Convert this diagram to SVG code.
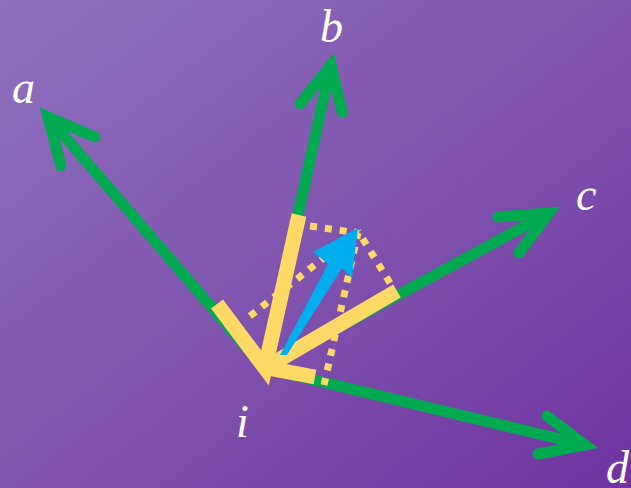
<svg xmlns="http://www.w3.org/2000/svg" width="631" height="488" viewBox="0 0 631 488">
<defs>
<linearGradient id="bg" x1="0" y1="0" x2="1" y2="1">
<stop offset="0" stop-color="#8E70BD"/>
<stop offset="0.5" stop-color="#8055AF"/>
<stop offset="1" stop-color="#7033A0"/>
</linearGradient>
<style>
.g{stroke:#00AA50;stroke-width:11;fill:none;stroke-linecap:round;stroke-linejoin:miter;stroke-miterlimit:10}
.y{stroke:#FFD966;stroke-width:15;fill:none;stroke-linecap:butt}
.d{stroke:#FFD966;stroke-width:7;fill:none;stroke-dasharray:7 8}
.t{font-family:"Liberation Serif",serif;font-style:italic;font-size:46px;fill:#FFFFFF}
</style>
</defs>
<rect width="631" height="488" fill="url(#bg)"/>
<g id="connectors">
<line class="g" x1="264" y1="368" x2="48" y2="117"/>
<polyline class="g" points="95,137 48,117 61,166"/>
<line class="g" x1="264" y1="368" x2="331" y2="65"/>
<polyline class="g" points="300,104 331,65 342,112"/>
<line class="g" x1="264" y1="368" x2="549" y2="213"/>
<polyline class="g" points="498,217 549,213 519,253"/>
<line class="g" x1="264" y1="368" x2="585" y2="445"/>
<polyline class="g" points="547,416 585,445 538,454"/>
<polyline class="y" points="217,304 265,368 299,215"/>
<polyline class="y" points="265,368 397,291"/>
<polyline class="y" points="262,367 315,377"/>
<line class="d" x1="250" y1="316" x2="358" y2="231"/>
<line class="d" x1="310" y1="226" x2="358" y2="233"/>
<line class="d" x1="390" y1="283" x2="358" y2="231"/>
<line class="d" x1="324" y1="385" x2="358" y2="233"/>
<polygon fill="#00AEEF" points="280,355 328,264 313,252 358,228 352,278 342,268 287,355"/>
</g>
<g id="node-a"><text class="t" x="12" y="103">a</text></g>
<g id="node-b"><text class="t" x="320" y="42">b</text></g>
<g id="node-c"><text class="t" x="576" y="210">c</text></g>
<g id="node-i"><text class="t" x="236" y="437">i</text></g>
<g id="node-d"><text class="t" x="606" y="483">d</text></g>
</svg>
